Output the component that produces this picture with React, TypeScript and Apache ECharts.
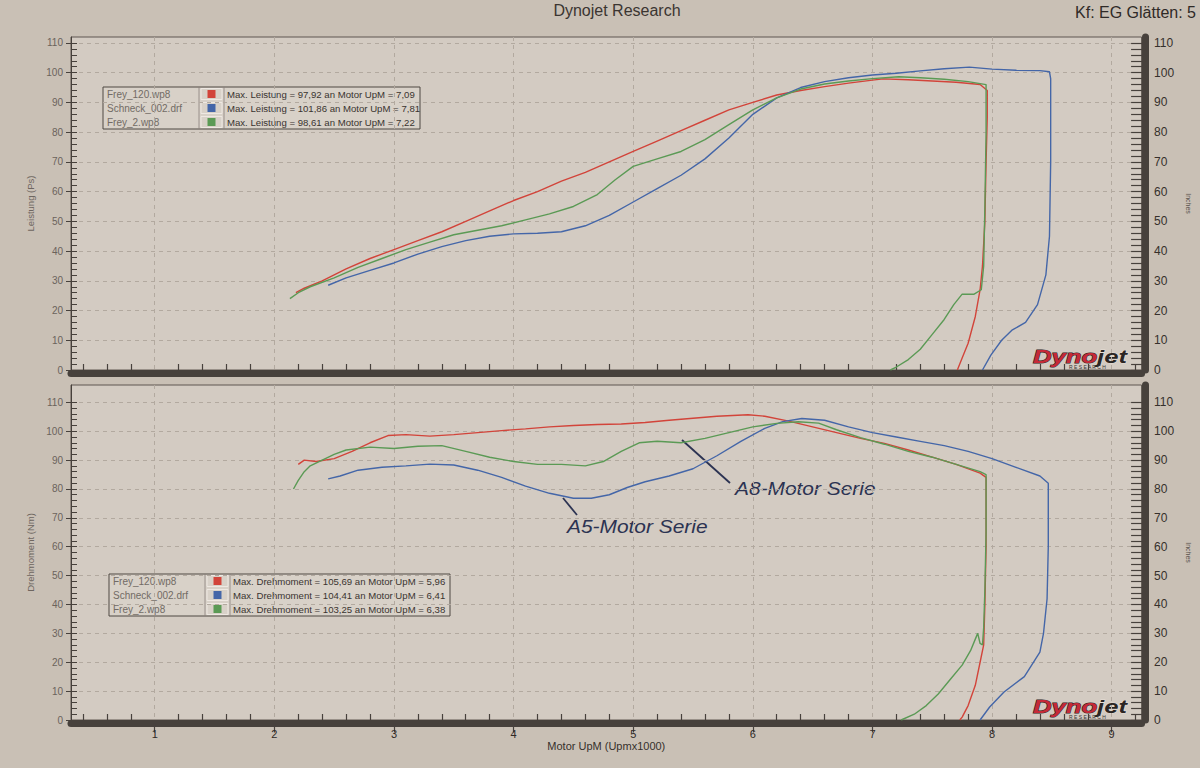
import React, { useEffect, useRef } from "react";
import * as echarts from "echarts";

// ---------- axis definitions ----------
const X_MIN = 0.3;
const X_MAX = 9.25;
const rpmLabels = [1, 2, 3, 4, 5, 6, 7, 8, 9];
const yLabels = [0, 10, 20, 30, 40, 50, 60, 70, 80, 90, 100, 110];
const POWER_MAX = 112;
const TORQUE_MAX = 116;

const fileNames = ["Frey_120.wp8", "Schneck_002.drf", "Frey_2.wp8"];
const lineColors = ["#d2443a", "#4466a8", "#5b9a55"];

// ---------- data: [rpm x1000, value] ----------
const frey120Power: [number, number][] = [
  [2.18, 26], [2.25, 27.5], [2.4, 30], [2.6, 34], [2.8, 37.5], [3.0, 40.5], [3.2, 43.5], [3.4, 46.5],
  [3.6, 50], [3.8, 53.5], [4.0, 57], [4.2, 60], [4.4, 63.5], [4.6, 66.5], [4.8, 70], [5.0, 73.5],
  [5.2, 77], [5.4, 80.5], [5.6, 84], [5.8, 87.5], [6.0, 90], [6.2, 92.5], [6.4, 94], [6.6, 95.3],
  [6.8, 96.5], [7.0, 97.5], [7.09, 97.92], [7.3, 97.6], [7.5, 97.2], [7.7, 96.8], [7.9, 96], [7.96, 94],
  [7.96, 85], [7.95, 70], [7.94, 50], [7.92, 35], [7.9, 27], [7.86, 18], [7.8, 9], [7.75, 4], [7.71, 0],
];
const schneckPower: [number, number][] = [
  [2.45, 28.5], [2.6, 31], [2.8, 33.5], [3.0, 36], [3.2, 39], [3.4, 41.5], [3.6, 43.5], [3.8, 45],
  [4.0, 45.8], [4.2, 46], [4.4, 46.5], [4.6, 48.5], [4.8, 52], [5.0, 56.5], [5.2, 61], [5.4, 65.5],
  [5.6, 71], [5.8, 78], [6.0, 86], [6.2, 91.5], [6.4, 95], [6.6, 97], [6.8, 98.3], [7.0, 99.2],
  [7.2, 99.8], [7.4, 100.6], [7.6, 101.3], [7.81, 101.86], [8.0, 101.2], [8.2, 100.8], [8.4, 100.7],
  [8.48, 100.3], [8.49, 98], [8.49, 70], [8.48, 45], [8.45, 32], [8.38, 22], [8.28, 16], [8.17, 13.5],
  [8.08, 10], [7.99, 5], [7.92, 0],
];
const frey2Power: [number, number][] = [
  [2.13, 24], [2.2, 26], [2.3, 28], [2.5, 31], [2.7, 34.5], [2.9, 37.5], [3.1, 40.5], [3.3, 43],
  [3.5, 45.5], [3.7, 47], [3.9, 48.5], [4.1, 50.5], [4.3, 52.5], [4.5, 55], [4.7, 59], [4.85, 64],
  [5.0, 68.5], [5.2, 71], [5.4, 73.5], [5.6, 77.5], [5.8, 82.5], [6.0, 87.5], [6.2, 91.5], [6.4, 94.5],
  [6.6, 96.2], [6.8, 97.2], [7.0, 98], [7.22, 98.61], [7.4, 98.3], [7.6, 97.8], [7.8, 97], [7.95, 96],
  [7.95, 80], [7.94, 55], [7.93, 35], [7.91, 27], [7.85, 25.5], [7.75, 25.5], [7.68, 22], [7.6, 17],
  [7.5, 12], [7.4, 7], [7.3, 3.5], [7.2, 1], [7.15, 0],
];
const frey120Torque: [number, number][] = [
  [2.2, 88.5], [2.25, 90], [2.35, 89.5], [2.5, 90.5], [2.65, 93], [2.8, 96], [2.95, 98.5], [3.1, 98.8],
  [3.3, 98.3], [3.5, 98.8], [3.7, 99.5], [3.9, 100.2], [4.1, 100.8], [4.3, 101.5], [4.5, 102],
  [4.7, 102.3], [4.9, 102.5], [5.1, 103], [5.3, 103.8], [5.5, 104.5], [5.7, 105.2], [5.96, 105.69],
  [6.1, 105.2], [6.3, 103.5], [6.5, 101.5], [6.7, 99.5], [6.9, 97.5], [7.1, 95.8], [7.3, 93.5],
  [7.5, 91], [7.7, 88.5], [7.9, 85.5], [7.95, 84], [7.95, 60], [7.94, 40], [7.93, 26], [7.9, 20],
  [7.86, 12], [7.8, 5], [7.75, 1], [7.73, 0],
];
const schneckTorque: [number, number][] = [
  [2.45, 83.5], [2.55, 84.5], [2.7, 86.5], [2.9, 87.5], [3.1, 88], [3.3, 88.6], [3.5, 88.3], [3.7, 86.5],
  [3.9, 84], [4.1, 81], [4.3, 78.5], [4.5, 76.8], [4.65, 76.8], [4.8, 78], [4.95, 80.5], [5.1, 82.5],
  [5.3, 84.5], [5.5, 87], [5.7, 91.5], [5.9, 96.5], [6.1, 101], [6.25, 103.3], [6.41, 104.41],
  [6.6, 103.8], [6.8, 101.5], [7.0, 99.5], [7.2, 98], [7.4, 96.5], [7.6, 95], [7.8, 93], [8.0, 90.5],
  [8.2, 87.5], [8.4, 84.5], [8.47, 82], [8.47, 60], [8.46, 42], [8.43, 30], [8.4, 23.5], [8.27, 15],
  [8.1, 9.7], [7.98, 4.5], [7.9, 0],
];
const frey2Torque: [number, number][] = [
  [2.16, 80], [2.2, 83], [2.25, 86], [2.3, 88], [2.4, 90], [2.5, 92], [2.6, 93.5], [2.8, 94.5],
  [3.0, 94], [3.2, 94.8], [3.4, 95], [3.6, 93], [3.8, 91], [4.0, 89.5], [4.2, 88.5], [4.4, 88.5],
  [4.6, 88], [4.75, 89.5], [4.9, 93], [5.05, 96], [5.2, 96.5], [5.4, 96], [5.6, 97.5], [5.8, 99.5],
  [6.0, 101.5], [6.2, 102.7], [6.38, 103.25], [6.55, 102.8], [6.7, 100.5], [6.9, 97.8], [7.1, 95.5],
  [7.3, 93], [7.5, 91], [7.7, 88.5], [7.9, 86], [7.95, 85], [7.95, 65], [7.94, 45], [7.93, 32],
  [7.92, 26], [7.9, 26.5], [7.88, 30], [7.86, 28], [7.82, 24], [7.75, 19], [7.65, 14], [7.55, 9],
  [7.45, 5], [7.35, 2], [7.24, 0],
];

const powerSeries = [frey120Power, schneckPower, frey2Power];
const torqueSeries = [frey120Torque, schneckTorque, frey2Torque];

// ---------- tick helpers ----------
function minorX(): number[] {
  const out: number[] = [];
  for (let i = 2; i <= 46; i++) {
    const v = Math.round(i * 2) / 10;
    if (Math.abs(v - Math.round(v)) > 1e-6) out.push(v);
  }
  return out;
}
function minorY(): number[] {
  const out: number[] = [];
  for (let v = 0; v <= 110; v += 2) out.push(v);
  return out;
}

const fmt = (v: number) => v.toFixed(2).replace(".", ",");
function maxPoint(d: [number, number][]): [number, number] {
  let best = d[0];
  d.forEach((p) => {
    if (p[1] > best[1]) best = p;
  });
  return best;
}

const FONT = "'Liberation Sans', 'DejaVu Sans', sans-serif";
const BG = "#c9c0b5";
const PLOT = "#d3cbc2";
const DARK = "#47413c";
const GRIDLINE = "#b2a99f";

function buildOption() {
  const mx = minorX();
  const my = minorY();

  const xMain = (g: number, labels: boolean) => ({
    type: "value",
    gridIndex: g,
    min: X_MIN,
    max: X_MAX,
    position: "bottom",
    offset: 3.5,
    axisLine: { show: true, onZero: false, lineStyle: { color: DARK, width: 7 } },
    axisTick: { show: labels, customValues: rpmLabels, length: 9, lineStyle: { color: DARK, width: 1.2 } },
    axisLabel: { show: labels, customValues: rpmLabels, margin: 5, color: "#2f2a27", fontSize: 11, fontFamily: FONT },
    splitLine: { show: true, lineStyle: { color: GRIDLINE, type: [4, 4], width: 1 } },
    name: labels ? "Motor UpM (Upmx1000)" : "",
    nameLocation: "middle",
    nameGap: 17,
    nameTextStyle: { color: "#36302c", fontSize: 11, fontFamily: FONT },
  });
  const xMinor = (g: number) => ({
    type: "value",
    gridIndex: g,
    min: X_MIN,
    max: X_MAX,
    position: "bottom",
    axisLine: { show: false },
    axisTick: { show: true, inside: true, customValues: mx, length: 6, lineStyle: { color: DARK, width: 1.2 } },
    axisLabel: { show: false },
    splitLine: { show: false },
  });
  const yLeft = (g: number, max: number, name: string) => ({
    type: "value",
    gridIndex: g,
    min: 0,
    max,
    position: "left",
    axisLine: { show: true, lineStyle: { color: DARK, width: 1 } },
    axisTick: { show: true, customValues: yLabels, length: 5, lineStyle: { color: DARK } },
    axisLabel: { customValues: yLabels, margin: 8, color: "#6b635c", fontSize: 10, fontFamily: FONT },
    splitLine: { show: true, lineStyle: { color: GRIDLINE, type: [4, 4], width: 1 } },
    name,
    nameLocation: "middle",
    nameRotate: 90,
    nameGap: 36,
    nameTextStyle: { color: "#6e665f", fontSize: 9.5, fontFamily: FONT },
  });
  const yLeftMinor = (g: number, max: number) => ({
    type: "value",
    gridIndex: g,
    min: 0,
    max,
    position: "left",
    axisLine: { show: false },
    axisTick: { show: true, inside: true, customValues: my, length: 6, lineStyle: { color: DARK } },
    axisLabel: { show: false },
    splitLine: { show: false },
  });
  const yRight = (g: number, max: number) => ({
    type: "value",
    gridIndex: g,
    min: 0,
    max,
    position: "right",
    offset: 3.5,
    axisLine: { show: true, lineStyle: { color: DARK, width: 7 } },
    axisTick: { show: true, inside: true, customValues: my, length: 14, lineStyle: { color: DARK, width: 1.2 } },
    axisLabel: { customValues: yLabels, margin: 9, color: "#36302c", fontSize: 12, fontFamily: FONT },
    splitLine: { show: false },
    name: "Inches",
    nameLocation: "middle",
    nameRotate: -90,
    nameGap: 34,
    nameTextStyle: { color: "#5a534d", fontSize: 7, fontFamily: FONT },
  });

  const series: any[] = [];
  powerSeries.forEach((d, i) =>
    series.push({
      type: "line",
      name: fileNames[i] + " P",
      xAxisIndex: 0,
      yAxisIndex: 0,
      data: d,
      showSymbol: false,
      lineStyle: { color: lineColors[i], width: 1.4 },
      z: 3,
    })
  );
  torqueSeries.forEach((d, i) =>
    series.push({
      type: "line",
      name: fileNames[i] + " T",
      xAxisIndex: 2,
      yAxisIndex: 3,
      data: d,
      showSymbol: false,
      lineStyle: { color: lineColors[i], width: 1.4 },
      z: 3,
    })
  );

  const legend = (left: number, top: number, width: number, label: string, data: [number, number][][]) => {
    const nameW = 96;
    const rowH = 14;
    const els: any[] = [
      {
        type: "rect",
        shape: { x: left, y: top, width, height: rowH * 3 },
        style: { fill: "#d8d1c8", stroke: "#4e4843", lineWidth: 1 },
      },
      { type: "line", shape: { x1: left + nameW, y1: top, x2: left + nameW, y2: top + rowH * 3 }, style: { stroke: "#8a827b", lineWidth: 0.8 } },
      { type: "line", shape: { x1: left + nameW + 25, y1: top, x2: left + nameW + 25, y2: top + rowH * 3 }, style: { stroke: "#8a827b", lineWidth: 0.8 } },
    ];
    data.forEach((d, i) => {
      const cy = top + rowH * i + rowH / 2;
      const mp = maxPoint(d);
      els.push({
        type: "text",
        style: { text: fileNames[i], x: left + 4, y: cy, verticalAlign: "middle", fill: "#726b65", fontSize: 10, fontFamily: FONT },
      });
      els.push({
        type: "rect",
        shape: { x: left + nameW + 2, y: cy - 5.5, width: 21, height: 11 },
        style: { fill: "none", stroke: "#eee8e2", lineWidth: 1 },
      });
      els.push({
        type: "rect",
        shape: { x: left + nameW + 8.5, y: cy - 4, width: 8, height: 8 },
        style: { fill: lineColors[i] },
      });
      els.push({
        type: "text",
        style: {
          text: `Max. ${label} = ${fmt(mp[1])} an Motor UpM = ${fmt(mp[0])}`,
          x: left + nameW + 28,
          y: cy,
          verticalAlign: "middle",
          fill: "#3a3430",
          fontSize: 9.6,
          fontFamily: FONT,
        },
      });
    });
    return els;
  };

  const logo = (x: number, y: number) => [
    {
      type: "text",
      x,
      y,
      scaleX: 1.35,
      style: {
        text: "{d|Dyno}{j|jet}",
        x: 0,
        y: 0,
        verticalAlign: "middle",
        rich: {
          d: { fill: "#c62a38", stroke: "#2e2424", lineWidth: 1, fontSize: 19, fontWeight: "bold", fontStyle: "italic", fontFamily: FONT },
          j: { fill: "#2a2523", stroke: "#e6ded6", lineWidth: 1, fontSize: 19, fontWeight: "bold", fontStyle: "italic", fontFamily: FONT },
        },
      },
    },
    {
      type: "text",
      style: { text: "R E S E A R C H", x: x + 36, y: y + 10, verticalAlign: "middle", fill: "#3a3430", fontSize: 5, fontFamily: FONT },
    },
  ];

  const hand = "#2c3352";

  const graphic: any[] = [
    {
      type: "text",
      style: { text: "Dynojet Research", x: 617, y: 10, align: "center", verticalAlign: "middle", fill: "#3b3531", fontSize: 16, fontFamily: FONT },
    },
    {
      type: "text",
      style: { text: "Kf: EG Glätten: 5", x: 1196, y: 12, align: "right", verticalAlign: "middle", fill: "#2f2a27", fontSize: 16, fontFamily: FONT },
    },
    ...legend(103, 87, 317, "Leistung", powerSeries),
    ...legend(109, 574, 341, "Drehmoment", torqueSeries),
    ...logo(1033, 357),
    ...logo(1033, 707),
    { type: "line", shape: { x1: 682, y1: 440, x2: 730, y2: 483 }, style: { stroke: hand, lineWidth: 1.8 } },
    { type: "line", shape: { x1: 563, y1: 498, x2: 577, y2: 515 }, style: { stroke: hand, lineWidth: 1.8 } },
    {
      type: "text",
      x: 735,
      y: 488,
      scaleX: 1.1,
      style: { text: "A8-Motor Serie", x: 0, y: 0, verticalAlign: "middle", fill: hand, fontSize: 19, fontStyle: "italic", fontFamily: FONT },
    },
    {
      type: "text",
      x: 567,
      y: 526,
      scaleX: 1.1,
      style: { text: "A5-Motor Serie", x: 0, y: 0, verticalAlign: "middle", fill: hand, fontSize: 19, fontStyle: "italic", fontFamily: FONT },
    },
  ];

  return {
    animation: false,
    backgroundColor: BG,
    textStyle: { fontFamily: FONT },
    grid: [
      { left: 71, right: 53, top: 37, height: 333, show: true, backgroundColor: PLOT, borderColor: "#5e5650", borderWidth: 1 },
      { left: 71, right: 53, top: 385, height: 335, show: true, backgroundColor: PLOT, borderColor: "#5e5650", borderWidth: 1 },
    ],
    xAxis: [xMain(0, false), xMinor(0), xMain(1, true), xMinor(1)],
    yAxis: [
      yLeft(0, POWER_MAX, "Leistung (Ps)"),
      yLeftMinor(0, POWER_MAX),
      yRight(0, POWER_MAX),
      yLeft(1, TORQUE_MAX, "Drehmoment (Nm)"),
      yLeftMinor(1, TORQUE_MAX),
      yRight(1, TORQUE_MAX),
    ],
    series,
    graphic,
  };
}

export default function App() {
  const ref = useRef<HTMLDivElement>(null);
  useEffect(() => {
    document.body.style.margin = "0";
    document.body.style.background = BG;
    const chart = echarts.init(ref.current as HTMLDivElement, null, { renderer: "svg" });
    chart.setOption(buildOption() as any);
    return () => chart.dispose();
  }, []);
  return <div ref={ref} style={{ width: 1200, height: 768 }} />;
}
